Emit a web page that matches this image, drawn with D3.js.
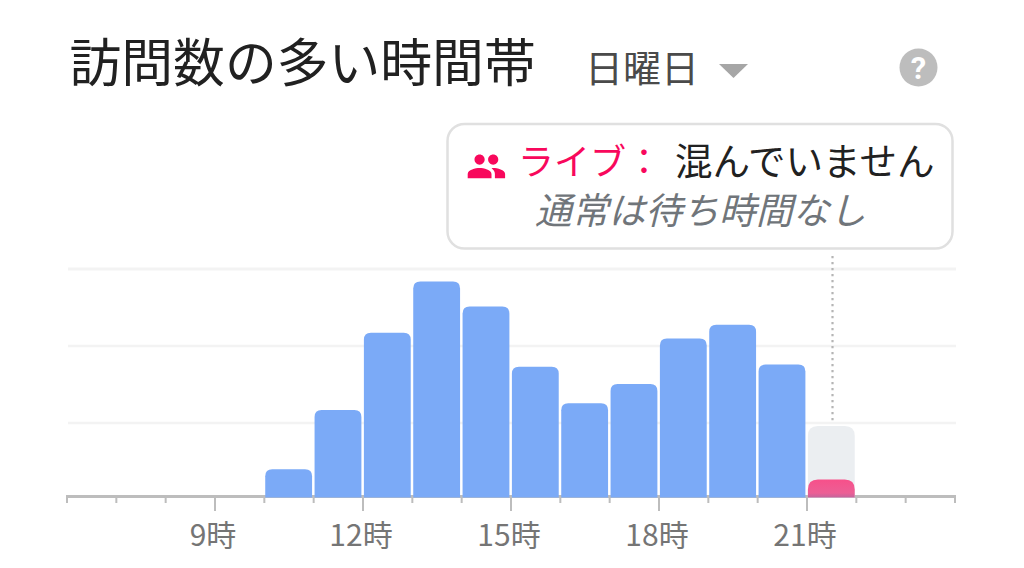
<!DOCTYPE html>
<html><head><meta charset="utf-8">
<script src="https://cdn.jsdelivr.net/npm/d3@7/dist/d3.min.js"></script>
<style>html,body{margin:0;padding:0;background:#fff}svg{display:block}
text{font-family:"Noto Sans CJK JP","Noto Sans",sans-serif}</style></head>
<body><svg id="c" width="1024" height="568"></svg>
<script>
const hours=[10,11,12,13,14,15,16,17,18,19,20];
const usualValues=[12,38,72,94.5,83.5,57,41,49.5,69.5,75.5,58];
const liveHour=21;
const usualAtLive=31;
const liveValue=7.5;
const gridValues=[32.3,66.2,100];
const tickHours=d3.range(6,25);
const labelHours=[9,12,15,18,21];
const titleText="訪問数の多い時間帯";
const dayText="日曜日";
const liveLabel="ライブ：";
const liveStatus="混んでいません";
const waitText="通常は待ち時間なし";

const svg=d3.select("#c");
const x=d3.scaleLinear().domain([6,24]).range([67,955]);
const y=d3.scaleLinear().domain([0,100]).range([496.5,269]);
const barW=x(7)-x(6)-2.5;
const bx=h=>x(h)+0.9;
function topRounded(X,Y,W,H,r){
  return `M${X},${Y+H}V${Y+r}Q${X},${Y} ${X+r},${Y}H${X+W-r}Q${X+W},${Y} ${X+W},${Y+r}V${Y+H}Z`;
}
// title
svg.append("text").attr("x",69.5).attr("y",81.5).attr("font-size",51.8).attr("fill","#212121").text(titleText);
svg.append("text").attr("x",585).attr("y",82).attr("font-size",38).attr("fill","#4a4a4a").text(dayText);
svg.append("path").attr("d","M719,64H748L733.5,78Z").attr("fill","#a6a6a6");
// help
svg.append("circle").attr("cx",918.5).attr("cy",67.5).attr("r",19).attr("fill","#bdbdbd");
svg.append("text").attr("x",918.5).attr("y",79).attr("text-anchor","middle").attr("font-size",31).attr("font-weight",700).attr("fill","#fff").style("font-family","Roboto").text("?");
// grid
svg.selectAll("line.grid").data(gridValues).join("line").attr("class","grid")
 .attr("x1",68).attr("x2",956).attr("y1",d=>y(d)).attr("y2",d=>y(d))
 .attr("stroke","#f3f3f3").attr("stroke-width",d=>d===100?3:2.5);
// dotted
svg.append("line").attr("x1",832.5).attr("x2",832.5).attr("y1",256).attr("y2",424)
 .attr("stroke","#b5b5b5").attr("stroke-width",2.2).attr("stroke-dasharray","2.2 3.8");
// axis
const g=svg.append("g");
g.append("line").attr("x1",x(6)-1).attr("x2",x(24)+1).attr("y1",496.5).attr("y2",496.5).attr("stroke","#bdbdbd").attr("stroke-width",3);
g.selectAll("line.t").data(tickHours).join("line").attr("class","t")
 .attr("x1",d=>x(d)).attr("x2",d=>x(d)).attr("y1",496).attr("y2",d=>labelHours.includes(d)?511:503)
 .attr("stroke","#bdbdbd").attr("stroke-width",2);
// bars
svg.selectAll("path.bar").data(hours).join("path").attr("class","bar")
 .attr("d",(h,i)=>topRounded(bx(h),y(usualValues[i]),barW,497.5-y(usualValues[i]),7))
 .attr("fill","#7baaf7");
svg.append("path").attr("d",topRounded(bx(liveHour),y(usualAtLive),barW,497.5-y(usualAtLive),10)).attr("fill","#ebeef1");
const defs=svg.append("defs");
const lg=defs.append("linearGradient").attr("id","pk").attr("x1",0).attr("x2",0).attr("y1",0).attr("y2",1);
lg.append("stop").attr("offset",0).attr("stop-color","#f7508a");
lg.append("stop").attr("offset",.75).attr("stop-color","#ec5f95");
lg.append("stop").attr("offset",1).attr("stop-color","#c4649c");
svg.append("path").attr("d",topRounded(bx(liveHour),y(liveValue),barW,497.5-y(liveValue),10)).attr("fill","url(#pk)");
// labels
svg.selectAll("text.l").data(labelHours).join("text").attr("class","l")
 .attr("x",d=>x(d)-2).attr("y",546).attr("text-anchor","middle").attr("font-size",30).attr("fill","#757575").text(d=>d+"時");
// callout
svg.append("rect").attr("x",447.5).attr("y",124).attr("width",505).attr("height",124.5).attr("rx",17)
 .attr("fill","#fff").attr("stroke","#e0e0e0").attr("stroke-width",2.5);
// people icon
svg.append("g").attr("fill","#f8085c").attr("transform","translate(466,146) scale(1.7)").append("path")
 .attr("d","M16 11c1.66 0 2.99-1.34 2.99-3S17.66 5 16 5c-1.66 0-3 1.34-3 3s1.34 3 3 3zm-8 0c1.66 0 2.99-1.34 2.99-3S9.66 5 8 5C6.34 5 5 6.34 5 8s1.34 3 3 3zm0 2c-2.33 0-7 1.17-7 3.5V19h14v-2.5c0-2.33-4.67-3.5-7-3.5zm8 0c-.29 0-.62.02-.97.05 1.16.84 1.97 1.97 1.97 3.45V19h6v-2.5c0-2.33-4.67-3.5-7-3.5z");
svg.append("text").attr("x",518).attr("y",175).attr("font-size",36).attr("fill","#f8085c").text(liveLabel);
svg.append("text").attr("x",675).attr("y",175).attr("font-size",37.5).attr("fill","#212121").text(liveStatus);
svg.append("text").attr("x",535).attr("y",223.5).attr("font-size",36.8).attr("font-style","italic").attr("fill","#70757a").text(waitText);
</script></body></html>
